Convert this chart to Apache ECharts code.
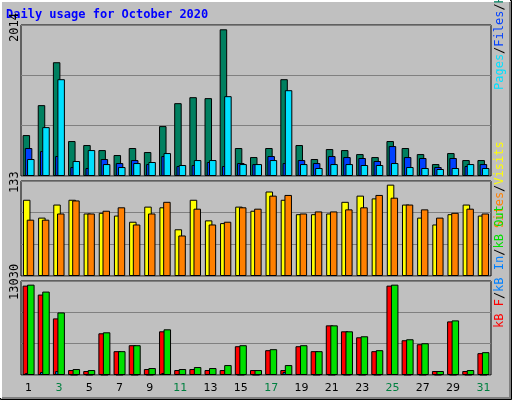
<!DOCTYPE html>
<html><head><meta charset="utf-8">
<script src="https://cdn.jsdelivr.net/npm/echarts@6/dist/echarts.min.js"></script>
<style>html,body{margin:0;padding:0;background:#c0c0c0}</style>
</head><body>
<div id="chart" style="width:512px;height:400px"></div>
<script>
var days = ['1','2','3','4','5','6','7','8','9','10','11','12','13','14','15','16','17','18','19','20','21','22','23','24','25','26','27','28','29','30','31'];
var weekend = ['3','4','10','11','17','18','24','25','31'];
var hits = [562,973,1562,480,425,356,288,384,329,685,1000,1082,1069,2014,384,260,384,1329,425,233,370,356,301,260,480,384,301,164,315,219,219];
var files = [384,342,274,123,110,233,178,219,164,274,137,151,192,137,178,164,274,178,219,178,274,260,247,206,411,260,247,123,247,137,164];
var pages = [233,671,1329,206,356,164,123,178,192,315,151,219,219,1096,164,164,219,1178,164,110,164,164,151,151,178,123,110,96,110,164,110];
var visits = [111,85,104,111,91,92,88,79,101,100,68,111,81,77,101,95,123,111,90,90,91,108,117,113,133,104,85,75,90,104,88];
var sites = [82,82,91,110,91,95,100,75,91,108,59,98,75,79,100,98,117,118,91,94,94,97,100,118,114,104,97,85,92,98,91];
var kbF = [12887,11598,8162,716,573,6014,3437,4296,859,6300,716,859,716,716,4152,716,3580,716,4152,3437,7160,6300,5441,3437,12887,5012,4439,573,7732,573,3150];
var kbIn = [290,430,570,60,60,60,60,60,60,290,140,140,140,140,60,60,140,430,140,60,60,60,60,60,140,60,60,60,60,60,60];
var kbOut = [13030,12028,9021,859,716,6157,3437,4296,1002,6587,859,1146,1002,1432,4296,716,3723,1432,4296,3437,7160,6300,5584,3580,13030,5155,4582,573,7875,716,3293];

var maxes = [2073, 138.3, 13555];
var grids = [
  {left:21, right:21, top:25, height:151},
  {left:21, right:21, top:181, height:95},
  {left:21, right:21, top:281, height:94}
];
grids.forEach(function (g) { g.show = true; g.borderColor = '#000'; g.borderWidth = 1; g.backgroundColor = '#c0c0c0'; });

var xAxes = grids.map(function (g, i) {
  return {
    type: 'category', gridIndex: i, data: days,
    axisLine: {show: false}, axisTick: {show: false},
    axisLabel: {
      show: i === 2, margin: 8, fontFamily: 'DejaVu Sans', fontSize: 11,
      color: function (v) { return weekend.indexOf(v) >= 0 ? '#008040' : '#000'; }
    }
  };
});
var yAxes = maxes.map(function (m, i) {
  return {
    type: 'value', gridIndex: i, min: 0, max: m, interval: m / 3,
    axisLabel: {show: false}, axisLine: {show: false}, axisTick: {show: false},
    splitLine: {lineStyle: {color: '#808080', width: 1}}
  };
});

function bar(data, color, gi, gap) {
  return {
    type: 'bar', xAxisIndex: gi, yAxisIndex: gi, data: data, barWidth: 7.5, barGap: gap,
    itemStyle: {color: color, borderColor: '#000', borderWidth: 1},
    animation: false, silent: true
  };
}

var series = [
  bar(hits, '#008060', 0, '-70%'),
  bar(files, '#0040ff', 0, '-70%'),
  bar(pages, '#00e0ff', 0, '-70%'),
  bar(visits, '#ffff00', 1, '-50%'),
  bar(sites, '#ff8000', 1, '-50%'),
  bar(kbF, '#ff0000', 2, '-70%'),
  bar(kbIn, '#0080ff', 2, '-70%'),
  bar(kbOut, '#00e000', 2, '-70%')
];

function vtext(x, y, rich, text) {
  return {type: 'text', x: x, y: y, rotation: Math.PI / 2,
    style: {text: text, rich: rich, font: '12px "DejaVu Sans Mono"', fill: '#000', align: 'left', verticalAlign: 'middle'}};
}
var mono = {fontFamily: 'DejaVu Sans Mono', fontSize: 12};
function r(c) { return Object.assign({fill: c, color: c}, mono); }

var chart = echarts.init(document.getElementById('chart'), null, {renderer: 'canvas'});
chart.setOption({
  backgroundColor: '#c0c0c0',
  grid: grids, xAxis: xAxes, yAxis: yAxes, series: series,
  graphic: [
    {type: 'rect', shape: {x: 0.5, y: 0.5, width: 511, height: 399}, style: {fill: 'none', stroke: '#000'}},
    {type: 'polyline', shape: {points: [[1, 398], [1, 1], [510, 1]]}, style: {stroke: '#fff', fill: 'none', lineWidth: 2}},
    {type: 'polyline', shape: {points: [[2, 398], [510, 398], [510, 2]]}, style: {stroke: '#808080', fill: 'none', lineWidth: 2}},
    {type: 'text', x: 6, y: 9, style: {text: 'Daily usage for October 2020', font: 'bold 12px "DejaVu Sans Mono"', fill: '#0000ff'}},
    vtext(15, 42, {}, '2014'),
    vtext(15, 193, {}, '133'),
    vtext(15, 300, {}, '13030'),
    vtext(500, 90, {p: r('#00e0ff'), f: r('#0040ff'), h: r('#008060'), s: r('#000')}, '{p|Pages}{s|/}{f|Files}{s|/}{h|Hits}'),
    vtext(500, 228, {s1: r('#ff8000'), v: r('#ffff00'), s: r('#000')}, '{s1|Sites}{s|/}{v|Visits}'),
    vtext(500, 328, {f: r('#ff0000'), i: r('#0080ff'), o: r('#00e000'), s: r('#000')}, '{f|kB F}{s|/}{i|kB In}{s|/}{o|kB Out}')
  ]
});
</script>
</body></html>
